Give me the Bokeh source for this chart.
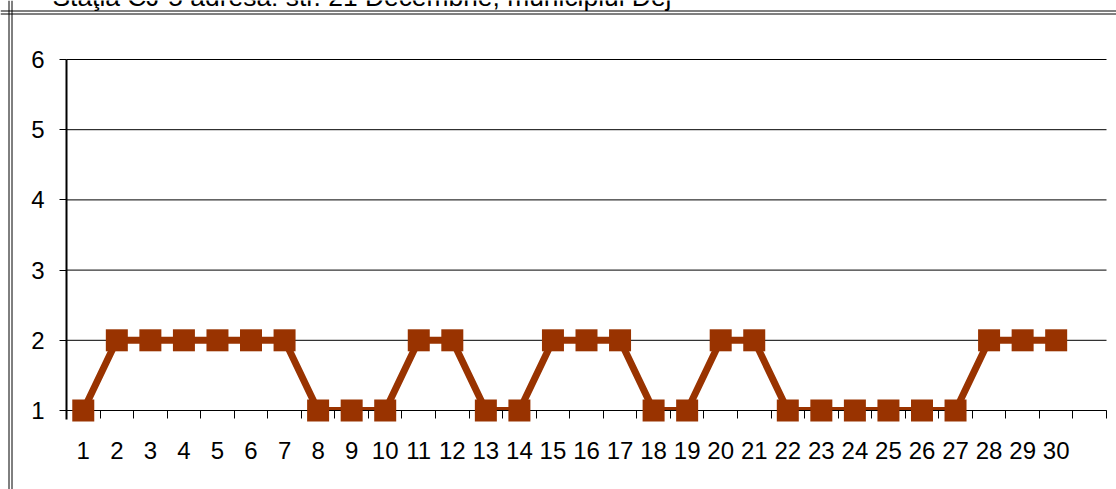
from bokeh.plotting import figure
from bokeh.models import (Range1d, FixedTicker, LinearAxis, BoxAnnotation, Label,
                          Span, ColumnDataSource)
from bokeh.embed import file_html
from bokeh.resources import INLINE

# ---- data ----
title_text = "Staţia CJ-5 adresa: str. 21 Decembrie, municipiul Dej"
days = list(range(1, 31))
values = [1, 2, 2, 2, 2, 2, 2, 1, 1, 1, 2, 2, 1, 1, 2, 2, 2, 1, 1, 2,
          2, 1, 1, 1, 1, 1, 1, 2, 2, 2]
y_ticks = [1, 2, 3, 4, 5, 6]
n_slots = 31

COLOR = "#993300"
FONT = "Liberation Sans"
W, H = 1116, 489

# plot area in pixels (whole canvas is the frame, so texts outside the axes are not clipped)
PX_L, PX_R, PX_T, PX_B = 66, 1106, 59, 410
x_lo, x_hi = 0.5, n_slots + 0.5
y_lo, y_hi = y_ticks[0], y_ticks[-1]
sx = (PX_R - PX_L) / (x_hi - x_lo)
sy = (PX_B - PX_T) / (y_hi - y_lo)
X0 = x_lo - PX_L / sx          # data x at canvas left
Y1 = y_hi + PX_T / sy          # data y at canvas top

p = figure(width=W, height=H, output_backend="svg", toolbar_location=None,
           x_range=Range1d(X0, x_hi + (W - PX_R) / sx),
           y_range=Range1d(y_lo - (H - PX_B) / sy, Y1),
           x_axis_type=None, y_axis_type=None,
           min_border_left=0, min_border_right=0,
           min_border_top=0, min_border_bottom=0)
p.outline_line_color = None
p.background_fill_color = "white"
p.border_fill_color = "white"

# horizontal gridlines across the plot area
p.segment(x0=[x_lo] * len(y_ticks), x1=[x_hi] * len(y_ticks), y0=y_ticks, y1=y_ticks,
          line_color="black", line_width=1, level="underlay")

# y axis
yaxis = LinearAxis(ticker=FixedTicker(ticks=y_ticks), fixed_location=x_lo,
                   bounds=(y_lo - 9 / sy, y_hi))
yaxis.axis_line_color = "black"
yaxis.axis_line_width = 2
yaxis.major_tick_out = 7
yaxis.major_tick_in = 0
yaxis.major_tick_line_color = "black"
yaxis.minor_tick_out = 0
yaxis.minor_tick_in = 0
yaxis.major_label_standoff = 15
yaxis.major_label_text_font = FONT
yaxis.major_label_text_font_size = "24px"
yaxis.major_label_text_color = "black"
p.add_layout(yaxis, "left")

# x axis: line and ticks at category boundaries, at value 1
xtick_axis = LinearAxis(ticker=FixedTicker(ticks=[d - 0.5 for d in range(1, n_slots + 2)]),
                        fixed_location=y_lo, bounds=(x_lo, x_hi))
xtick_axis.axis_line_color = "black"
xtick_axis.axis_line_width = 1
xtick_axis.major_tick_out = 8
xtick_axis.major_tick_in = 0
xtick_axis.major_tick_line_color = "black"
xtick_axis.minor_tick_out = 0
xtick_axis.minor_tick_in = 0
xtick_axis.major_label_text_color = None
xtick_axis.major_label_text_font_size = "0px"
xtick_axis.major_label_standoff = 0
p.add_layout(xtick_axis, "below")

# x axis: labels at category centres
xlab_axis = LinearAxis(ticker=FixedTicker(ticks=days), fixed_location=y_lo)
xlab_axis.axis_line_color = None
xlab_axis.major_tick_out = 0
xlab_axis.major_tick_in = 0
xlab_axis.minor_tick_out = 0
xlab_axis.minor_tick_in = 0
xlab_axis.major_label_standoff = 31
xlab_axis.major_label_text_font = FONT
xlab_axis.major_label_text_font_size = "24px"
xlab_axis.major_label_text_color = "black"
p.add_layout(xlab_axis, "below")

# series
src = ColumnDataSource(dict(day=days, val=values))
p.line("day", "val", source=src, line_color=COLOR, line_width=7, line_join="round")

# hide the part of the line that falls below the category axis (Excel clips it there)
cover = BoxAnnotation(top=y_lo, bottom=y_lo - 8 / sy, left=x_lo, right=x_hi,
                      fill_color="white", fill_alpha=1, line_color=None, level="glyph")
p.renderers.append(cover)

p.scatter("day", "val", source=src, marker="square", size=22,
          fill_color=COLOR, line_color=None, level="annotation")

# double border round the chart (only its left and top sides are in the picture)
for off in (8.5, 11.5):
    p.add_layout(Span(location=X0 + off / sx, dimension="height",
                      line_color="black", line_width=1, level="overlay"))
    p.add_layout(Span(location=Y1 - (off + 2) / sy, dimension="width",
                      line_color="black", line_width=1, level="overlay"))

# title (cropped at the top of the picture)
t = Label(x=52, y=-4, x_units="canvas", y_units="canvas", text=title_text,
          text_font=FONT, text_font_size="26.4px", text_color="black",
          text_baseline="alphabetic", text_align="left", level="overlay")
p.add_layout(t)

open("out.html", "w").write(file_html(p, INLINE))
